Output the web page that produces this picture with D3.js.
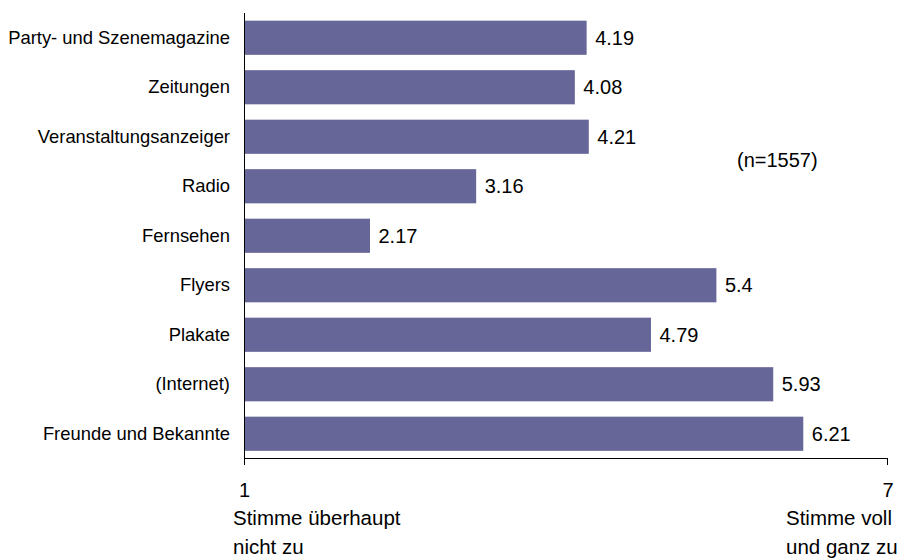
<!DOCTYPE html>
<html><head><meta charset="utf-8">
<script src="https://cdn.jsdelivr.net/npm/d3@7"></script>
<style>
html,body{margin:0;padding:0;background:#fff;}
svg{display:block;font-family:"Liberation Sans",Arial,sans-serif;}
</style></head>
<body>
<svg id="c" width="904" height="560"></svg>
<script>
const categories = ["Party- und Szenemagazine","Zeitungen","Veranstaltungsanzeiger","Radio","Fernsehen","Flyers","Plakate","(Internet)","Freunde und Bekannte"];
const values = [4.19, 4.08, 4.21, 3.16, 2.17, 5.4, 4.79, 5.93, 6.21];
const valueLabels = ["4.19","4.08","4.21","3.16","2.17","5.4","4.79","5.93","6.21"];
const tickValues = [1, 7];
const lowLabel = ["Stimme überhaupt", "nicht zu"];
const highLabel = ["Stimme voll", "und ganz zu"];
const note = "(n=1557)";

const svg = d3.select("#c");
const x = d3.scaleLinear().domain([1, 7]).range([244.5, 888]);
const y = d3.scaleBand().domain(categories).range([13, 458.5]).paddingInner(0.31).paddingOuter(0.155);

// bars
svg.append("g").selectAll("rect").data(values).join("rect")
  .attr("x", x(1))
  .attr("y", (d, i) => y(categories[i]))
  .attr("width", d => x(d) - x(1))
  .attr("height", y.bandwidth())
  .attr("fill", "#666699");

// value labels
svg.append("g").selectAll("text").data(values).join("text")
  .attr("x", d => x(d) + 8.5)
  .attr("y", (d, i) => y(categories[i]) + y.bandwidth() / 2)
  .attr("dy", "0.34em")
  .attr("font-size", 20)
  .attr("fill", "#000")
  .text((d, i) => valueLabels[i]);

// category labels
svg.append("g").selectAll("text").data(categories).join("text")
  .attr("x", 230)
  .attr("y", d => y(d) + y.bandwidth() / 2)
  .attr("dy", "0.33em")
  .attr("text-anchor", "end")
  .attr("font-size", 18.4)
  .attr("fill", "#000")
  .text(d => d);

// axes
const x0 = Math.round(x(1)) - 0.5;
const yb = 458.5;
svg.append("line").attr("x1", x0).attr("x2", x0).attr("y1", 13).attr("y2", 465)
  .attr("stroke", "#000").attr("stroke-width", 1);
svg.append("line").attr("x1", x0).attr("x2", x(7)).attr("y1", yb).attr("y2", yb)
  .attr("stroke", "#000").attr("stroke-width", 1);
svg.append("g").selectAll("line").data(tickValues).join("line")
  .attr("x1", d => Math.round(x(d)) - 0.5).attr("x2", d => Math.round(x(d)) - 0.5)
  .attr("y1", yb).attr("y2", 465)
  .attr("stroke", "#000").attr("stroke-width", 1);

// tick labels
svg.append("g").selectAll("text").data(tickValues).join("text")
  .attr("x", d => x(d))
  .attr("y", 497)
  .attr("text-anchor", "middle")
  .attr("font-size", 20)
  .text(d => d);

// end labels
function multi(lines, xx) {
  const t = svg.append("text").attr("font-size", 20.5).attr("x", xx).attr("y", 525);
  lines.forEach((l, i) => t.append("tspan").attr("x", xx).attr("y", 525 + i * 29).text(l));
}
multi(lowLabel, 233);
multi(highLabel, 786);

svg.append("text").attr("x", 737).attr("y", 167).attr("font-size", 20).text(note);
</script>
</body></html>
